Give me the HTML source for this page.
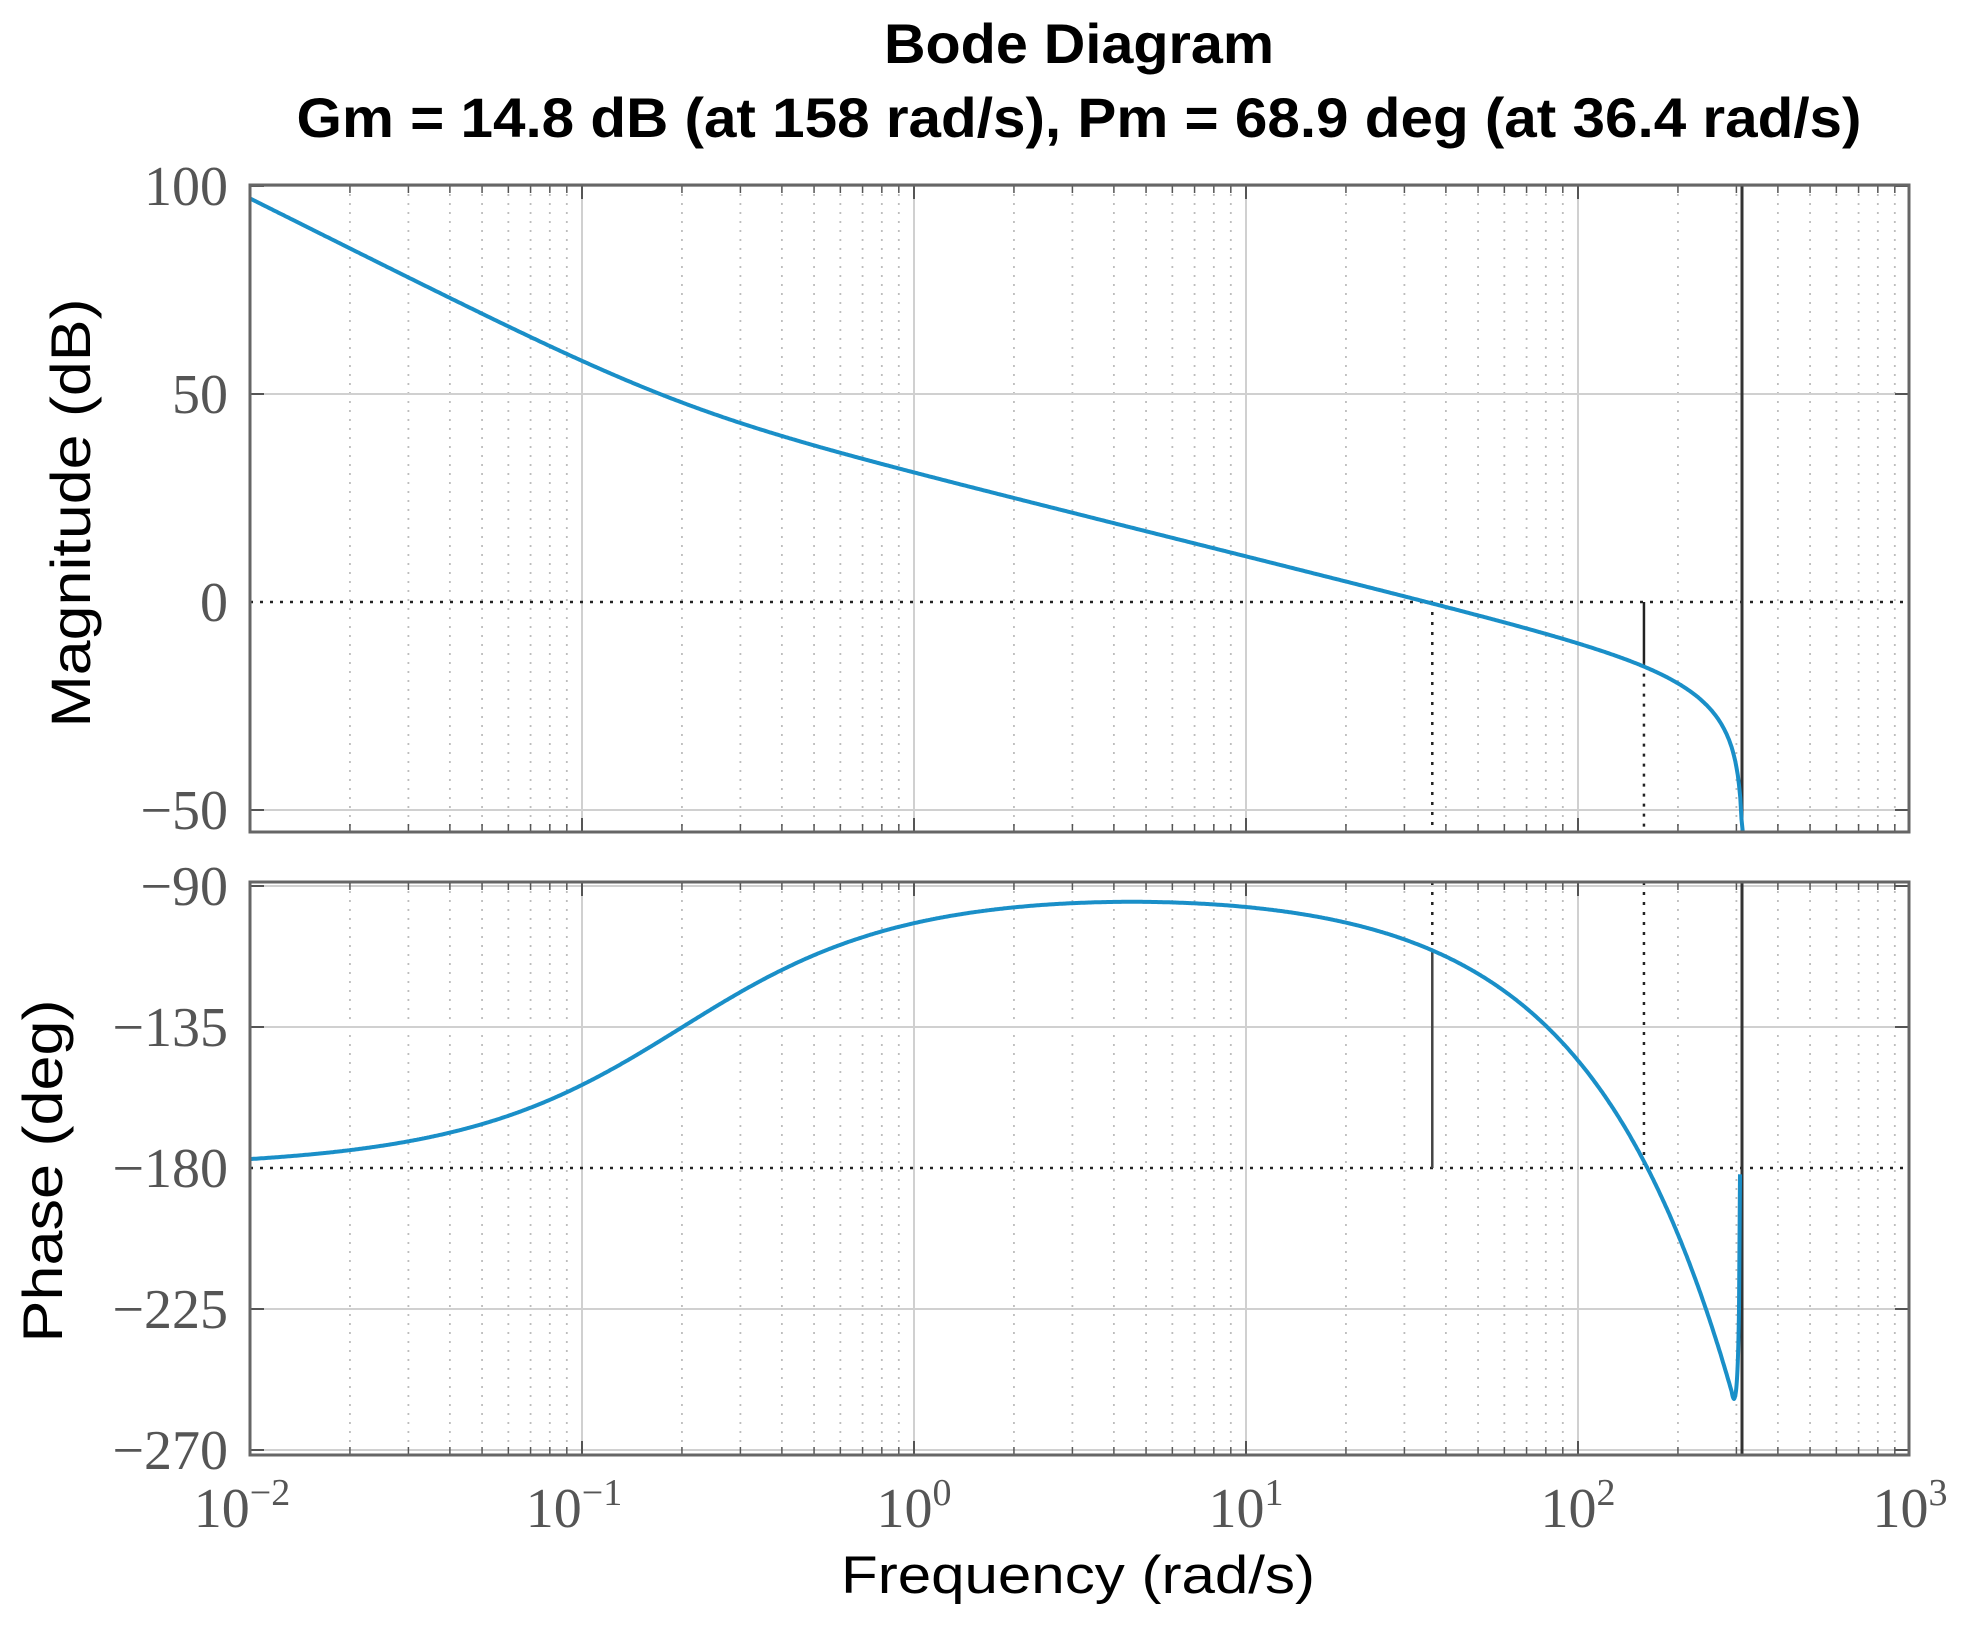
<!DOCTYPE html>
<html><head><meta charset="utf-8"><style>
html,body{margin:0;padding:0;background:#fff;}
svg{display:block;}
</style></head><body>
<svg id="s" width="1963" height="1628" viewBox="0 0 1963 1628" xmlns="http://www.w3.org/2000/svg">
<rect width="1963" height="1628" fill="#fff"/>
<g id="grid"></g>
<g id="curves"></g>
<g id="frame"></g>
<g font-family="Liberation Sans, Arial, sans-serif" fill="#000">
<text x="1079" y="63" font-size="56" font-weight="bold" text-anchor="middle" textLength="390" lengthAdjust="spacingAndGlyphs">Bode Diagram</text>
<text x="1079" y="137" font-size="56" font-weight="bold" text-anchor="middle" textLength="1565" lengthAdjust="spacingAndGlyphs">Gm = 14.8 dB (at 158 rad/s),  Pm = 68.9 deg (at 36.4 rad/s)</text>
<text x="1078" y="1593" font-size="53" text-anchor="middle" textLength="474" lengthAdjust="spacingAndGlyphs">Frequency  (rad/s)</text>
<text transform="translate(90,513) rotate(-90)" font-size="56" text-anchor="middle" textLength="429" lengthAdjust="spacingAndGlyphs">Magnitude (dB)</text>
<text transform="translate(62,1171) rotate(-90)" font-size="56" text-anchor="middle" textLength="343" lengthAdjust="spacingAndGlyphs">Phase (deg)</text>
</g>
<g id="labels" font-family="Liberation Serif, DejaVu Serif, serif" fill="#555"></g>
</svg>
<script>
var NS="http://www.w3.org/2000/svg";
function el(p,t,a,txt){var e=document.createElementNS(NS,t);for(var k in a)e.setAttribute(k,a[k]);if(txt!==undefined)e.textContent=txt;document.getElementById(p).appendChild(e);return e;}
var L=250,R=1909,DEC=332;
function X(w){return L+(Math.log10(w)+2)*DEC;}
var M={t:185,b:832}; function YM(d){return 602-d*4.16;}
var P={t:882,b:1455}; function YP(p){return 886+(-90-p)*(564/180);}
[M,P].forEach(function(ax){
 for(var d=-2;d<3;d++){for(var m=2;m<=9;m++){var x=X(m*Math.pow(10,d));
  el("grid","line",{x1:x,y1:ax.t,x2:x,y2:ax.b,stroke:"#bdbdbd","stroke-width":1.8,"stroke-dasharray":"2,7"});
  el("frame","line",{x1:x,y1:ax.b,x2:x,y2:ax.b-8,stroke:"#555","stroke-width":1.5});
  el("frame","line",{x1:x,y1:ax.t,x2:x,y2:ax.t+8,stroke:"#555","stroke-width":1.5});}}
 for(var d=-1;d<3;d++){var x=X(Math.pow(10,d));
  el("grid","line",{x1:x,y1:ax.t,x2:x,y2:ax.b,stroke:"#d0d0d0","stroke-width":2});
  el("frame","line",{x1:x,y1:ax.b,x2:x,y2:ax.b-14,stroke:"#555","stroke-width":2});
  el("frame","line",{x1:x,y1:ax.t,x2:x,y2:ax.t+14,stroke:"#555","stroke-width":2});}
});
[100,50,-50].forEach(function(v){var y=YM(v);el("grid","line",{x1:L,y1:y,x2:R,y2:y,stroke:"#d0d0d0","stroke-width":2});
 el("frame","line",{x1:L,y1:y,x2:L+14,y2:y,stroke:"#555","stroke-width":2});el("frame","line",{x1:R,y1:y,x2:R-14,y2:y,stroke:"#555","stroke-width":2});});
[-90,-135,-225,-270].forEach(function(v){var y=YP(v);el("grid","line",{x1:L,y1:y,x2:R,y2:y,stroke:"#d0d0d0","stroke-width":2});
 el("frame","line",{x1:L,y1:y,x2:L+14,y2:y,stroke:"#555","stroke-width":2});el("frame","line",{x1:R,y1:y,x2:R-14,y2:y,stroke:"#555","stroke-width":2});});
var dot={stroke:"#222","stroke-width":2.5,"stroke-dasharray":"3,7"};
function ln(a,o){for(var k in o)a[k]=o[k];return a;}
el("curves","line",ln({x1:L,y1:YM(0),x2:R,y2:YM(0)},dot));
el("curves","line",ln({x1:L,y1:YP(-180),x2:R,y2:YP(-180)},dot));
var xpm=X(36.4),xgm=X(158),xn=1742;
el("curves","line",ln({x1:xpm,y1:YM(0),x2:xpm,y2:M.b},dot));
el("curves","line",ln({x1:xgm,y1:YM(-14.8),x2:xgm,y2:M.b},dot));
el("curves","line",ln({x1:xgm,y1:P.t,x2:xgm,y2:YP(-180)},dot));
el("curves","line",ln({x1:xpm,y1:P.t,x2:xpm,y2:YP(-111.1)},dot));
el("curves","line",{x1:xgm,y1:YM(0),x2:xgm,y2:YM(-14.8),stroke:"#222","stroke-width":2.5});
el("curves","line",{x1:xpm,y1:YP(-111.1),x2:xpm,y2:YP(-180),stroke:"#444","stroke-width":2.5});
el("curves","line",{x1:xn,y1:M.t,x2:xn,y2:M.b,stroke:"#333","stroke-width":3});
el("curves","line",{x1:xn,y1:P.t,x2:xn,y2:P.b,stroke:"#333","stroke-width":3});
var K=7.08,tau=0.0097,w0=314.2;
var pm="",pp="";
for(var i=0;i<=1200;i++){var lw=-2+i*(Math.log10(313.5)+2)/1200;var w=Math.pow(10,lw);
 var mag=K*Math.sqrt(1+Math.pow(w/0.2,2))/(w*w)*Math.abs(1-Math.pow(w/w0,2));
 var db=20*Math.log10(mag); var y=YM(db); if(y>M.b){y=M.b;}
 pm+=(i?"L":"M")+X(w).toFixed(1)+","+y.toFixed(1);
 if(w<=292){var ph=-180+Math.atan(w/0.2)*180/Math.PI-w*tau*180/Math.PI;
 pp+=(pp?"L":"M")+X(w).toFixed(1)+","+YP(ph).toFixed(1);}
}
pp+="Q"+(X(302)).toFixed(1)+","+(YP(-262)).toFixed(1)+" "+(xn-3)+","+YP(-225).toFixed(1)+"L"+(xn-2)+","+YP(-182).toFixed(1);
el("curves","path",{d:pm,fill:"none",stroke:"#1a8fc8","stroke-width":4});
el("curves","path",{d:pp,fill:"none",stroke:"#1a8fc8","stroke-width":4});
el("frame","rect",{x:L,y:M.t,width:R-L,height:M.b-M.t,fill:"none",stroke:"#666","stroke-width":3});
el("frame","rect",{x:L,y:P.t,width:R-L,height:P.b-P.t,fill:"none",stroke:"#666","stroke-width":3});
var mi="\u2212";
[[100,"100"],[50,"50"],[0,"0"],[-50,mi+"50"]].forEach(function(a){el("labels","text",{x:228,y:YM(a[0])+19,"font-size":56,"text-anchor":"end"},a[1]);});
[[-90,mi+"90"],[-135,mi+"135"],[-180,mi+"180"],[-225,mi+"225"],[-270,mi+"270"]].forEach(function(a){el("labels","text",{x:228,y:YP(a[0])+19,"font-size":56,"text-anchor":"end"},a[1]);});
[-2,-1,0,1,2,3].forEach(function(d){var x=X(Math.pow(10,d));var t=el("labels","text",{x:x+(d<0?-8:0),y:1527,"font-size":56,"text-anchor":"middle"});
 var a=document.createElementNS(NS,"tspan");a.textContent="10";t.appendChild(a);
 var b=document.createElementNS(NS,"tspan");b.setAttribute("dy","-22");b.setAttribute("font-size","38");b.textContent=(d<0?mi+(-d):""+d);t.appendChild(b);});
</script>
</body></html>
